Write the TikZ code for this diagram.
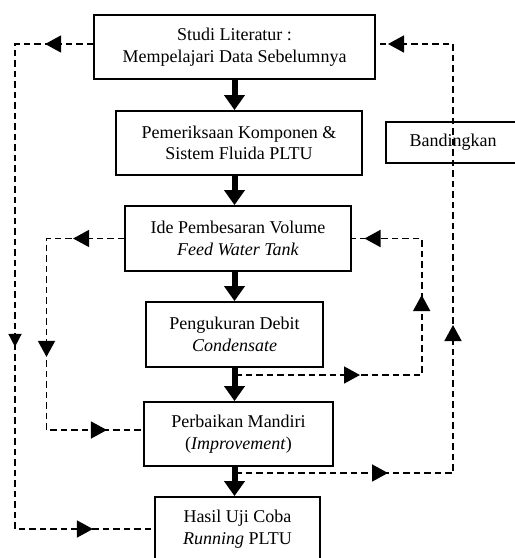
\documentclass[tikz,border=0pt]{standalone}
\usepackage{fontspec}
\setmainfont{Liberation Serif}
\usetikzlibrary{arrows.meta,decorations.markings}
\begin{document}
\begin{tikzpicture}[x=1pt,y=-1pt,
  box/.style={draw,line width=1.8pt,align=center,inner sep=0pt,
    font=\fontsize{18}{21.5}\selectfont},
  flow/.style={line width=6pt,-{Triangle[width=20pt,length=15pt]}},
  fb/.style={line width=1.6pt,dash pattern=on 6.5pt off 4pt},
  tri/.tip={Triangle[width=17pt,length=16pt]},
  stri/.tip={Triangle[width=13pt,length=13pt]},
]
\useasboundingbox (0,0) rectangle (515,558);

\node[box,minimum width=281pt,minimum height=64pt] (b1) at (234.5,47)
  {Studi Literatur :\\Mempelajari Data Sebelumnya};
\node[box,minimum width=246pt,minimum height=64pt] (b2) at (239,143)
  {Pemeriksaan Komponen \&\\Sistem Fluida PLTU};
\node[box,minimum width=226pt,minimum height=65pt] (b3) at (238,238.5)
  {Ide Pembesaran Volume\\\textit{Feed Water Tank}};
\node[box,minimum width=177pt,minimum height=65pt] (b4) at (234.5,334.5)
  {Pengukuran Debit\\\textit{Condensate}};
\node[box,minimum width=189pt,minimum height=64pt] (b5) at (238.5,434)
  {Perbaikan Mandiri\\(\textit{Improvement})};
\node[box,minimum width=165pt,minimum height=64pt] (b6) at (237.5,529)
  {Hasil Uji Coba\\\textit{Running} PLTU};
\node[box,minimum width=134pt,minimum height=41pt] (bd) at (453,142.5)
  {Bandingkan};

\coordinate (cx) at (234.5,0);
\foreach \a/\b in {b1/b2,b2/b3,b3/b4,b4/b5,b5/b6}
  \draw[flow] (\a.south -| cx) -- (\b.north -| cx);

% outer left loop
\coordinate (l1a) at (15,44);
\coordinate (l1b) at (15,529);
\draw[fb,postaction={decorate},decoration={markings,
    mark=at position 48pt with {\arrow{tri}},
    mark=at position 381pt with {\arrow{stri}},
    mark=at position 641pt with {\arrow{tri}}}]
  ([yshift=3pt]b1.west) -- (l1a) -- (l1b) -- (b6.west);

% inner left loop
\coordinate (l2a) at (46.5,238.5);
\coordinate (l2b) at (46.5,430);
\draw[fb,postaction={decorate},decoration={markings,
    mark=at position 51pt with {\arrow{tri}},
    mark=at position 196pt with {\arrow{tri}},
    mark=at position 329.5pt with {\arrow{tri}}}]
  (b3.west) -- (l2a) -- (l2b) -- ([yshift=4pt]b5.west);

% inner right loop
\coordinate (r1s) at (235,375);
\coordinate (r1a) at (421.7,375);
\coordinate (r1b) at (421.7,238.5);
\draw[fb,postaction={decorate},decoration={markings,
    mark=at position 125pt with {\arrow{tri}},
    mark=at position 266.7pt with {\arrow{tri}},
    mark=at position 380.4pt with {\arrow{tri}}}]
  (r1s) -- (r1a) -- (r1b) -- (b3.east);

% outer right loop
\coordinate (r2s) at (235,473);
\coordinate (r2a) at (453,473);
\coordinate (r2b) at (453,44);
\draw[fb,postaction={decorate},decoration={markings,
    mark=at position 153pt with {\arrow{tri}},
    mark=at position 366pt with {\arrow{tri}},
    mark=at position 712pt with {\arrow{tri}}}]
  (r2s) -- (r2a) -- (r2b) -- ([yshift=3pt]b1.east);
\end{tikzpicture}
\end{document}
